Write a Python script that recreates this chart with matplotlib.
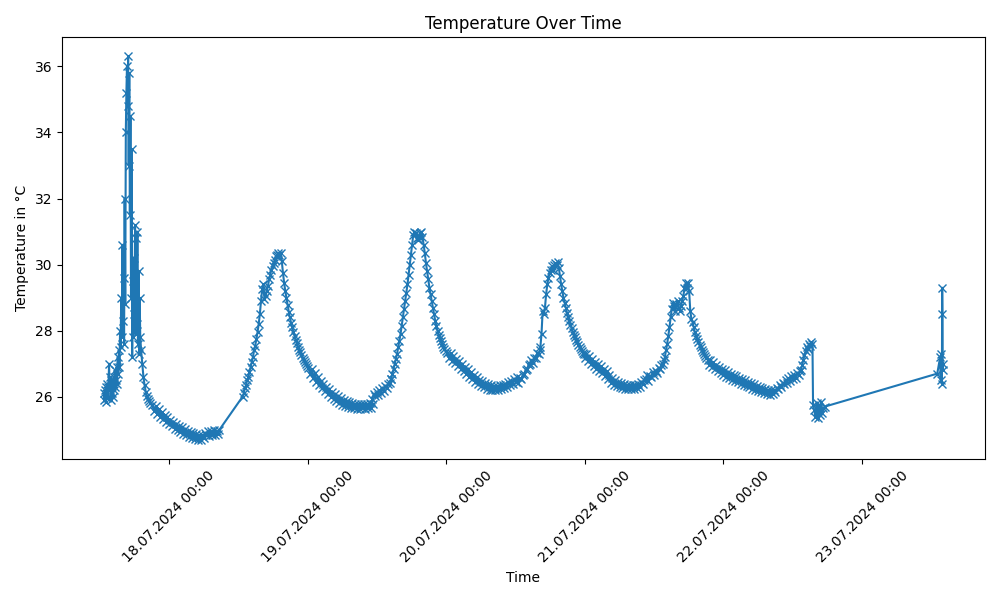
import numpy as np
import pandas as pd
import matplotlib
matplotlib.use('Agg')
import matplotlib.pyplot as plt
import matplotlib.dates as mdates

# logger readings, hours after 17.07.2024 00:00
start = pd.Timestamp('2024-07-17 00:00')

# 17.07 afternoon, noisy spike (every 6 min)
spike_start, spike_step = 12.75, 0.1
spike_temps = [
    26.1, 25.9, 26.2, 25.85, 26.3, 25.95, 26.4, 26.0, 26.3, 27.0, 26.2, 26.6, 25.9,
    26.5, 26.1, 26.4, 26.0, 26.6, 26.2, 26.8, 26.3, 26.5, 26.9, 26.4, 27.2, 26.7,
    27.4, 26.9, 28.0, 27.5, 29.0, 27.8, 30.6, 28.3,
    29.6, 27.6, 32.0, 28.8, 34.0, 35.2, 36.0, 34.8, 36.3, 33.0, 35.8, 31.5, 34.5, 29.0, 33.5,
    27.2, 29.5, 27.8, 30.2, 28.5, 31.2, 27.9, 30.8, 28.2, 31.0, 27.6, 29.8, 27.3, 29.0, 27.8,
]

# night 17./18.07
night1_start, night1_step = 19.2, 0.2
night1_temps = [27.4, 27.0, 26.6, 26.35, 26.15, 26.02, 25.93, 25.86, 25.8, 25.75]
night1b_start, night1b_step = 21.5, 0.25
night1b_temps = [
    25.58, 25.72, 25.49, 25.63, 25.4, 25.54, 25.32, 25.46, 25.24, 25.38, 25.17, 25.31,
    25.1, 25.24, 25.03, 25.17, 24.98, 25.12, 24.93, 25.07, 24.88, 25.02, 24.83, 24.97,
    24.79, 24.93, 24.75, 24.89, 24.72, 24.86, 24.7, 24.84, 24.7, 24.84, 24.75, 24.89,
    24.83, 24.97, 24.81, 24.95, 24.85, 24.99, 24.83, 24.97, 24.86, 25.0,
]

# 18.07 day peak
day2_start, day2_step = 36.75, 0.2
day2_temps = [
    26.0, 26.1, 26.25, 26.35, 26.5, 26.6, 26.75, 26.9, 27.05, 27.2, 27.4, 27.55,
    27.75, 27.95, 28.2, 28.5, 28.9, 29.25, 29.4, 28.95, 29.05, 29.2, 29.35, 29.55,
    29.7, 29.85, 29.95, 30.05, 30.15, 30.25, 30.3, 30.35, 30.3, 30.35,
    30.1, 29.75, 29.45, 29.2, 29.0, 28.78, 28.58, 28.4, 28.24, 28.1, 27.97, 27.85,
    27.73, 27.62, 27.52, 27.43, 27.34, 27.26, 27.18, 27.11, 27.04, 26.98, 26.92, 26.86,
]
night2_start, night2_step = 48.5, 0.25
night2_temps = [
    26.69, 26.83, 26.57, 26.71, 26.45, 26.59, 26.35, 26.49, 26.25, 26.39, 26.16, 26.3,
    26.08, 26.22, 26.0, 26.14, 25.93, 26.07, 25.87, 26.01, 25.81, 25.95, 25.76, 25.9,
    25.72, 25.86, 25.69, 25.83, 25.67, 25.81, 25.65, 25.79, 25.64, 25.78, 25.63, 25.77,
    25.65, 25.79, 25.63, 25.77, 25.66, 25.8, 25.65, 25.79,
]

# 19.07 / 20.07
morning3_start, morning3_step = 59.2, 0.25
morning3_temps = [
    25.93, 26.07, 26.01, 26.15, 26.05, 26.19, 26.11, 26.25, 26.18, 26.32, 26.26, 26.4,
    26.41, 26.55,
]
day3_start, day3_step = 62.5, 0.2
day3_temps = [
    26.55, 26.7, 26.85, 27.0, 27.15, 27.3, 27.5, 27.7, 27.9, 28.15, 28.4, 28.65,
    28.9, 29.15, 29.4, 29.7, 30.0, 30.3, 30.6, 30.9, 31.0, 30.95, 30.8, 30.75,
    30.85, 30.95, 31.0, 30.85, 30.6, 30.35, 30.05, 29.8, 29.55, 29.3, 29.1, 28.9,
    28.7, 28.5, 28.3, 28.15, 28.0, 27.88, 27.78, 27.68, 27.6, 27.52, 27.45, 27.38, 27.32,
]
night3_start, night3_step = 72.5, 0.25
night3_temps = [
    27.18, 27.32, 27.09, 27.23, 27.01, 27.15, 26.93, 27.07, 26.85, 26.99, 26.77, 26.91,
    26.69, 26.83, 26.61, 26.75, 26.53, 26.67, 26.45, 26.59, 26.38, 26.52, 26.33, 26.47,
    26.28, 26.42, 26.24, 26.38, 26.21, 26.35, 26.2, 26.34, 26.2, 26.34, 26.21, 26.35,
    26.23, 26.37, 26.26, 26.4, 26.3, 26.44, 26.35, 26.49, 26.4, 26.54, 26.45, 26.59,
    26.43, 26.57, 26.53, 26.67, 26.68, 26.82, 26.83, 26.97, 26.98, 27.12, 27.03, 27.17,
    27.18, 27.32, 27.28, 27.42,
]

# 20.07 / 21.07
day4_start, day4_step = 88.3, 0.2
day4_temps = [
    27.5, 27.9, 28.6, 28.5, 28.7, 29.1, 29.4, 29.6, 29.75, 29.85, 29.95, 29.85,
    30.0, 30.05, 30.0, 30.08, 29.9, 29.65, 29.4, 29.2, 29.0, 28.85, 28.7, 28.55,
    28.42, 28.3, 28.18, 28.07, 27.97, 27.88, 27.8, 27.72, 27.65, 27.58, 27.51,
    27.45, 27.39, 27.33, 27.28,
]
night4_start, night4_step = 96.0, 0.25
night4_temps = [
    27.16, 27.3, 27.08, 27.22, 27.0, 27.14, 26.92, 27.06, 26.85, 26.99, 26.78, 26.92,
    26.71, 26.85, 26.63, 26.77, 26.53, 26.67, 26.43, 26.57, 26.37, 26.51, 26.32, 26.46,
    26.28, 26.42, 26.25, 26.39, 26.23, 26.37, 26.22, 26.36, 26.22, 26.36, 26.23, 26.37,
    26.26, 26.4, 26.31, 26.45, 26.38, 26.52, 26.53, 26.67, 26.48, 26.62, 26.61, 26.75,
    26.65, 26.79, 26.73, 26.87, 26.83, 26.97, 26.98, 27.12,
]

# 21.07 / 22.07
day5_start, day5_step = 109.85, 0.2
day5_temps = [
    27.2, 27.4, 27.6, 27.85, 28.1, 28.4, 28.65, 28.85, 28.75, 28.6, 28.8, 28.9,
    28.7, 28.6, 28.75, 28.9, 29.05, 29.3, 29.45, 29.3, 29.45, 29.2, 28.6, 28.35,
    28.25, 28.1, 27.95, 27.85, 27.75, 27.66, 27.58, 27.5, 27.42, 27.35, 27.29,
    27.23, 27.17, 27.12,
]
night5_start, night5_step = 117.5, 0.25
night5_temps = [
    26.97, 27.11, 26.9, 27.04, 26.83, 26.97, 26.77, 26.91, 26.71, 26.85, 26.66, 26.8,
    26.61, 26.75, 26.56, 26.7, 26.52, 26.66, 26.48, 26.62, 26.44, 26.58, 26.4, 26.54,
    26.36, 26.5, 26.32, 26.46, 26.28, 26.42, 26.24, 26.38, 26.2, 26.34, 26.16, 26.3,
    26.13, 26.27, 26.1, 26.24, 26.07, 26.21, 26.05, 26.19, 26.07, 26.21, 26.13, 26.27,
    26.23, 26.37, 26.28, 26.42, 26.38, 26.52, 26.43, 26.57, 26.48, 26.62, 26.53, 26.67,
    26.58, 26.72, 26.65, 26.79,
]
day6_start, day6_step = 133.4, 0.2
day6_temps = [26.8, 26.95, 27.1, 27.25, 27.38, 27.5, 27.45, 27.6, 27.55, 27.65, 27.6]
drop_start, drop_step = 135.5, 0.2
drop_temps = [25.75, 25.6, 25.4, 25.8, 25.35, 25.7, 25.45, 25.85, 25.5, 25.65, 25.7]

# 23.07 last readings
last_hours = [157.0, 157.5, 157.6, 157.7, 157.8, 157.85, 157.9, 157.95, 158.0]
last_temps = [26.7, 27.2, 26.5, 27.3, 26.4, 29.3, 28.5, 26.8, 27.0]

segments = [
    (spike_start, spike_step, spike_temps),
    (night1_start, night1_step, night1_temps),
    (night1b_start, night1b_step, night1b_temps),
    (day2_start, day2_step, day2_temps),
    (night2_start, night2_step, night2_temps),
    (morning3_start, morning3_step, morning3_temps),
    (day3_start, day3_step, day3_temps),
    (night3_start, night3_step, night3_temps),
    (day4_start, day4_step, day4_temps),
    (night4_start, night4_step, night4_temps),
    (day5_start, day5_step, day5_temps),
    (night5_start, night5_step, night5_temps),
    (day6_start, day6_step, day6_temps),
    (drop_start, drop_step, drop_temps),
]

hours = []
temps = []
for s, step, vals in segments:
    hours.extend(s + step * np.arange(len(vals)))
    temps.extend(vals)
hours.extend(last_hours)
temps.extend(last_temps)

times = start + pd.to_timedelta(hours, unit='h')

plt.figure(figsize=(10, 6), dpi=100)
plt.plot(times, temps, marker='x')
plt.title('Temperature Over Time')
plt.xlabel('Time')
plt.ylabel('Temperature in °C')
ax = plt.gca()
ax.xaxis.set_major_locator(mdates.DayLocator())
ax.xaxis.set_major_formatter(mdates.DateFormatter('%d.%m.%Y %H:%M'))
plt.xticks(rotation=45)
plt.tight_layout()
plt.savefig('out.png')
